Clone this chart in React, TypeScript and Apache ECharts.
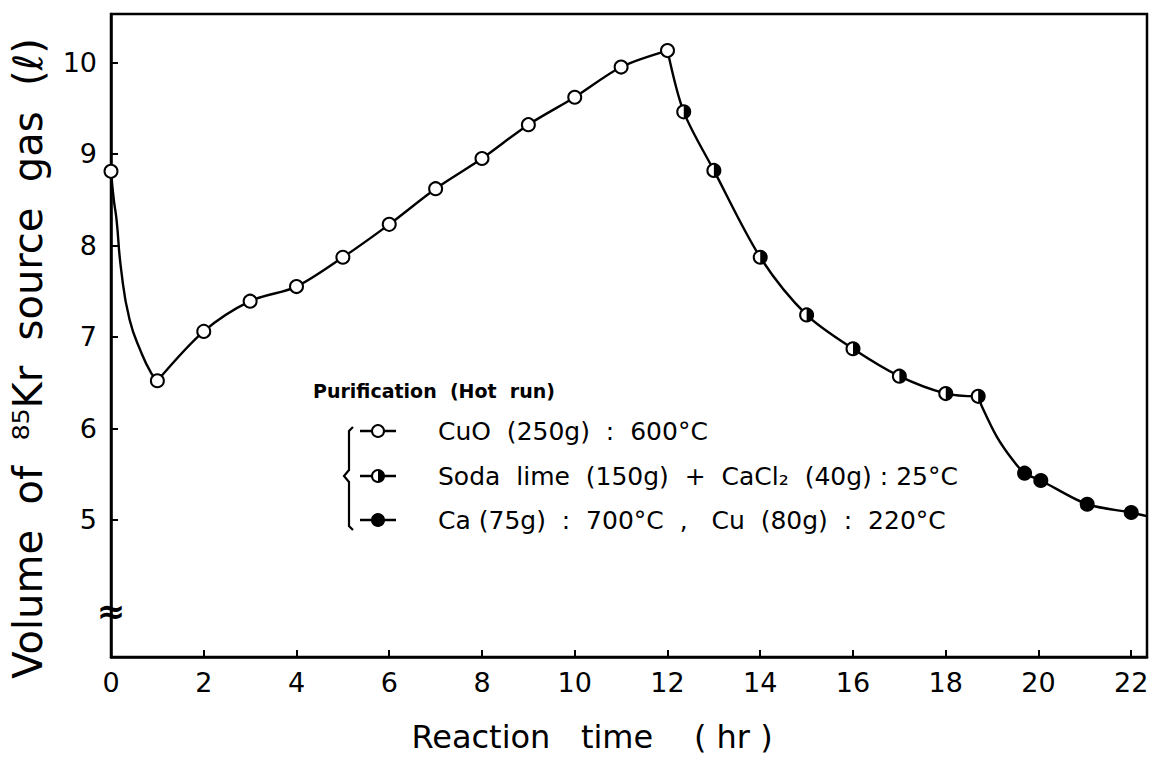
import React, { useEffect, useRef } from "react";
import * as echarts from "echarts";

// ---- axis ticks / ranges ----
const xTicks = [0, 2, 4, 6, 8, 10, 12, 14, 16, 18, 20, 22];
const yTicks = [5, 6, 7, 8, 9, 10];
const xMin = 0;
const xMax = 22.34;
const yMin = 3.5;
const yMax = 10.53;
const axisBreakValue = 4.0;

// ---- measured points ----
const cuoPoints = [
  [0, 8.81], [1, 6.52], [2, 7.06], [3, 7.39], [4, 7.55], [5, 7.87], [6, 8.23],
  [7, 8.62], [8, 8.95], [9, 9.32], [10, 9.62], [11, 9.95], [12, 10.13],
];
const sodaPoints = [
  [12.35, 9.46], [13, 8.82], [14, 7.87], [15, 7.24], [16, 6.87], [17, 6.57],
  [18, 6.38], [18.7, 6.35],
];
const caPoints = [[19.7, 5.51], [20.05, 5.43], [21.05, 5.17], [22, 5.08]];

// ---- drawn curve shape ----
const curveDrop = [
  [0, 8.81], [0.06, 8.5], [0.12, 8.28], [0.22, 7.73], [0.4, 7.19], [0.66, 6.82],
  [0.87, 6.6], [1, 6.52],
];
const curveKnee = [[18.7, 6.35], [18.78, 6.24], [19.1, 5.91], [19.45, 5.65], [19.7, 5.51]];
const curveTail = [[22, 5.08], [22.34, 5.04]];

// ---- legend texts ----
const legendTitle = "Purification  (Hot  run)";
const legendItems = [
  "CuO  (250g)  :  600°C",
  "Soda  lime  (150g)  +  CaCl₂  (40g) : 25°C",
  "Ca (75g)  :  700°C  ,   Cu  (80g)  :  220°C",
];

const FONT = "DejaVu Sans";
const HALF_PATH = "path://M0,0 A10,10 0 0 1 0,20 Z";

export default function App() {
  const ref = useRef<HTMLDivElement>(null);

  useEffect(() => {
    if (!ref.current) return;
    const chart = echarts.init(ref.current, null, { renderer: "svg" });

    const lineStyle = { color: "#000", width: 2.4 };
    const segB = cuoPoints.slice(1);
    const segC = [cuoPoints[cuoPoints.length - 1], ...sodaPoints];
    const segD = [...curveKnee, ...caPoints.slice(1), ...curveTail.slice(1)];

    const mkLine = (data: number[][], smooth: number) => ({
      type: "line",
      data,
      smooth,
      showSymbol: false,
      symbol: "none",
      lineStyle,
      silent: true,
      z: 2,
    });

    const option: any = {
      animation: false,
      backgroundColor: "#fff",
      grid: {
        left: 111,
        top: 14,
        right: 10,
        bottom: 105,
        show: true,
        borderColor: "#000",
        borderWidth: 2.5,
        backgroundColor: "transparent",
      },
      xAxis: {
        type: "value",
        min: xMin,
        max: xMax,
        name: "Reaction   time    ( hr )",
        nameLocation: "middle",
        nameGap: 64,
        nameTextStyle: { fontFamily: FONT, fontSize: 32, color: "#000", padding: [0, 74, 0, 0] },
        axisLine: { show: true, lineStyle: { color: "#000", width: 2.5 } },
        axisTick: { show: true, inside: true, length: 7, customValues: xTicks, lineStyle: { color: "#000", width: 2 } },
        axisLabel: { customValues: xTicks, fontFamily: FONT, fontSize: 27, color: "#000", margin: 12 },
        splitLine: { show: false },
      },
      yAxis: {
        type: "value",
        min: yMin,
        max: yMax,
        name: "Volume  of  ⁸⁵Kr  source  gas  (ℓ)",
        nameLocation: "middle",
        nameGap: 63,
        nameTextStyle: { fontFamily: FONT, fontSize: 40, color: "#000", padding: [0, 46, 0, 0] },
        axisLine: { show: true, lineStyle: { color: "#000", width: 2.5 } },
        axisTick: { show: true, inside: true, length: 7, customValues: yTicks, lineStyle: { color: "#000", width: 2 } },
        axisLabel: { customValues: yTicks, fontFamily: FONT, fontSize: 27, color: "#000", margin: 14 },
        splitLine: { show: false },
      },
      series: [
        mkLine(curveDrop, 0.5),
        mkLine(segB, 0.3),
        mkLine(segC, 0.3),
        mkLine(segD, 0.3),
        {
          type: "scatter",
          name: legendItems[0],
          data: cuoPoints,
          symbol: "circle",
          symbolSize: 13,
          itemStyle: { color: "#fff", borderColor: "#000", borderWidth: 2, opacity: 1 },
          z: 5,
        },
        {
          type: "scatter",
          name: legendItems[1],
          data: sodaPoints,
          symbol: "circle",
          symbolSize: 13,
          itemStyle: { color: "#fff", borderColor: "#000", borderWidth: 2, opacity: 1 },
          z: 5,
        },
        {
          type: "scatter",
          name: legendItems[1] + " (fill)",
          data: sodaPoints,
          symbol: HALF_PATH,
          symbolSize: [6.5, 13],
          symbolOffset: [3.25, 0],
          itemStyle: { color: "#000", borderWidth: 0, opacity: 1 },
          z: 6,
        },
        {
          type: "scatter",
          name: legendItems[2],
          data: caPoints,
          symbol: "circle",
          symbolSize: 13,
          itemStyle: { color: "#000", borderColor: "#000", borderWidth: 2, opacity: 1 },
          z: 5,
        },
      ],
    };

    chart.setOption(option);

    const bp = chart.convertToPixel({ gridIndex: 0 }, [xMin, axisBreakValue]) as number[];

    const rowY = [431, 476, 520];
    const mx = 378;
    const textX = 438;
    const g: any[] = [];
    g.push({
      type: "text",
      left: 313,
      top: 381,
      style: { text: legendTitle, fontFamily: FONT, fontSize: 19, fontWeight: "bold", fill: "#000" },
    });
    g.push({
      type: "polyline",
      shape: {
        points: [[353, 427], [349, 431], [349, 470], [344, 476], [349, 482], [349, 526], [353, 530]],
      },
      style: { stroke: "#000", lineWidth: 2.2, fill: "none" },
    });
    rowY.forEach((y, i) => {
      g.push({ type: "line", shape: { x1: mx - 18, y1: y, x2: mx + 18, y2: y }, style: { stroke: "#000", lineWidth: 2.4 } });
      g.push({
        type: "circle",
        shape: { cx: mx, cy: y, r: 6 },
        style: { fill: i === 2 ? "#000" : "#fff", stroke: "#000", lineWidth: 2 },
      });
      if (i === 1) {
        g.push({
          type: "sector",
          shape: { cx: mx, cy: y, r0: 0, r: 6, startAngle: -Math.PI / 2, endAngle: Math.PI / 2, clockwise: true },
          style: { fill: "#000" },
        });
      }
      g.push({
        type: "text",
        x: textX,
        y,
        style: { text: legendItems[i], fontFamily: FONT, fontSize: 25, fill: "#000", verticalAlign: "middle", align: "left" },
      });
    });
    g.push({
      type: "text",
      x: bp[0],
      y: bp[1],
      style: { text: "≈", fontFamily: FONT, fontSize: 34, fontWeight: "bold", fill: "#000", align: "center", verticalAlign: "middle" },
      z: 10,
    });

    chart.setOption({ graphic: g });

    return () => chart.dispose();
  }, []);

  return (
    <div
      ref={ref}
      style={{ position: "fixed", left: 0, top: 0, width: 1157, height: 762, background: "#fff" }}
    />
  );
}
